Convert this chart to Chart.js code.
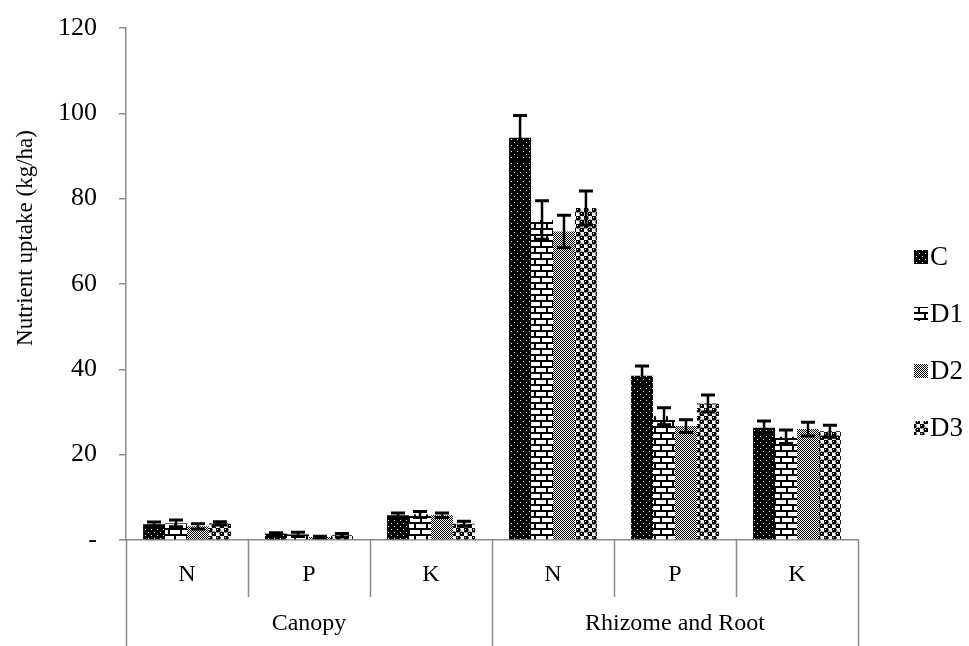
<!DOCTYPE html>
<html>
<head>
<meta charset="utf-8">
<script src="https://cdn.jsdelivr.net/npm/chart.js@4.4.1/dist/chart.umd.min.js"></script>
<style>
  html, body { margin: 0; padding: 0; background: #fff; }
  #wrap { width: 969px; height: 646px; }
</style>
</head>
<body>
<div id="wrap"><canvas id="c" width="969" height="646"></canvas></div>
<script>
// Nutrient categories along the x axis, grouped by plant part
const categories = ['N', 'P', 'K', 'N', 'P', 'K'];
const groups = ['Canopy', 'Rhizome and Root'];
const groupSize = 3;

// Treatments
const seriesNames = ['C', 'D1', 'D2', 'D3'];

// Nutrient uptake (kg/ha), one array per treatment
const valuesC  = [3.7, 1.5, 5.8, 94.3, 38.5, 26.3];
const valuesD1 = [3.9, 1.3, 6.0, 75.0, 29.0, 24.2];
const valuesD2 = [3.2, 0.7, 5.8, 72.3, 26.7, 26.0];
const valuesD3 = [3.9, 1.1, 3.8, 77.8, 32.0, 25.5];

// Standard errors
const errC  = [0.5, 0.2, 0.5, 5.2, 2.3, 1.6];
const errD1 = [0.8, 0.5, 0.7, 4.5, 2.0, 1.6];
const errD2 = [0.6, 0.2, 0.5, 3.8, 1.5, 1.6];
const errD3 = [0.4, 0.4, 0.6, 4.0, 2.0, 1.4];

// Y axis tick labels
const yTicks = [0, 20, 40, 60, 80, 100, 120];
const yTickLabels = ['-', '20', '40', '60', '80', '100', '120'];
const yTitle = 'Nutrient uptake (kg/ha)';

const FONT = "'Liberation Serif', 'Times New Roman', serif";
const AXIS_GREY = '#8a8a8a';

// ---- fill patterns for the bars ----
function makeTile(w, h, draw) {
  const t = document.createElement('canvas');
  t.width = w; t.height = h;
  const g = t.getContext('2d');
  draw(g, w, h);
  return t;
}
const ctxMain = document.getElementById('c').getContext('2d');

const patDots = ctxMain.createPattern(makeTile(6, 6, (g) => {
  g.fillStyle = '#000'; g.fillRect(0, 0, 6, 6);
  g.fillStyle = '#fff';
  g.fillRect(1, 1, 1, 1);
  g.fillRect(4, 4, 1, 1);
}), 'repeat');

const patBrick = ctxMain.createPattern(makeTile(12, 12, (g) => {
  g.fillStyle = '#fff'; g.fillRect(0, 0, 12, 12);
  g.fillStyle = '#000';
  g.fillRect(0, 0, 12, 2);
  g.fillRect(0, 6, 12, 2);
  g.fillRect(0, 0, 2, 6);
  g.fillRect(6, 6, 2, 6);
}), 'repeat');

const patChecker = ctxMain.createPattern(makeTile(2, 2, (g) => {
  g.fillStyle = '#fff'; g.fillRect(0, 0, 2, 2);
  g.fillStyle = '#000';
  g.fillRect(0, 0, 1, 1);
  g.fillRect(1, 1, 1, 1);
}), 'repeat');

const patBalls = ctxMain.createPattern(makeTile(8, 8, (g) => {
  g.fillStyle = '#fff'; g.fillRect(0, 0, 8, 8);
  g.fillStyle = '#000';
  [[2, 2], [6, 6]].forEach(([cx, cy]) => {
    g.beginPath(); g.arc(cx, cy, 2.6, 0, Math.PI * 2); g.fill();
  });
  g.fillStyle = '#fff';
  g.fillRect(1, 1, 1, 1);
  g.fillRect(5, 5, 1, 1);
}), 'repeat');

const seriesValues = [valuesC, valuesD1, valuesD2, valuesD3];
const seriesErrors = [errC, errD1, errD2, errD3];
const seriesFills = [patDots, patBrick, patChecker, patBalls];

// ---- error bars drawn from the y scale ----
const errorBars = {
  id: 'errorBars',
  afterDatasetsDraw(chart) {
    const { ctx, scales: { y } } = chart;
    ctx.save();
    ctx.strokeStyle = '#000';
    chart.data.datasets.forEach((ds, i) => {
      const meta = chart.getDatasetMeta(i);
      meta.data.forEach((bar, j) => {
        const v = ds.data[j], e = ds.errors[j];
        const yTop = y.getPixelForValue(v + e);
        const yBot = y.getPixelForValue(Math.max(0, v - e));
        const x = bar.x;
        ctx.lineWidth = 2.5;
        ctx.beginPath();
        ctx.moveTo(x, yTop); ctx.lineTo(x, yBot);
        ctx.stroke();
        ctx.lineWidth = 3;
        ctx.beginPath();
        ctx.moveTo(x - 7, yTop); ctx.lineTo(x + 7, yTop);
        ctx.moveTo(x - 7, yBot); ctx.lineTo(x + 7, yBot);
        ctx.stroke();
      });
    });
    ctx.restore();
  }
};

// ---- two-level category axis, y title and legend ----
const decorations = {
  id: 'decorations',
  afterDraw(chart) {
    const { ctx, chartArea, scales: { x } } = chart;
    const bottom = chartArea.bottom;
    const n = categories.length;
    const step = (x.getPixelForValue(1) - x.getPixelForValue(0));
    ctx.save();
    ctx.strokeStyle = AXIS_GREY;
    ctx.lineWidth = 1.5;
    for (let k = 0; k <= n; k++) {
      const px = Math.round(x.getPixelForValue(k) - step / 2) + 0.5;
      const isGroupEdge = k % groupSize === 0;
      ctx.beginPath();
      ctx.moveTo(px, bottom);
      ctx.lineTo(px, isGroupEdge ? chart.height : bottom + 57);
      ctx.stroke();
    }
    // group labels
    ctx.fillStyle = '#000';
    ctx.font = '24px ' + FONT;
    ctx.textAlign = 'center';
    ctx.textBaseline = 'middle';
    groups.forEach((g, gi) => {
      const a = x.getPixelForValue(gi * groupSize) - step / 2;
      const b = x.getPixelForValue(gi * groupSize + groupSize - 1) + step / 2;
      ctx.fillText(g, (a + b) / 2, bottom + 84);
    });
    // y axis title
    ctx.save();
    ctx.translate(26, 238);
    ctx.rotate(-Math.PI / 2);
    ctx.font = '23px ' + FONT;
    ctx.fillText(yTitle, 0, 0);
    ctx.restore();
    // legend
    ctx.font = '27px ' + FONT;
    ctx.textAlign = 'left';
    chart.data.datasets.forEach((ds, i) => {
      const cy = 257 + i * 57;
      ctx.fillStyle = ds.backgroundColor;
      ctx.fillRect(914, cy - 7, 14, 14);
      ctx.fillStyle = '#000';
      ctx.fillText(ds.label, 930, cy + 1);
    });
    ctx.restore();
  }
};

new Chart(ctxMain, {
  type: 'bar',
  data: {
    labels: categories,
    datasets: seriesNames.map((name, i) => ({
      label: name,
      data: seriesValues[i],
      errors: seriesErrors[i],
      backgroundColor: seriesFills[i],
      borderWidth: 0,
      categoryPercentage: 0.72,
      barPercentage: 1.0
    }))
  },
  options: {
    responsive: false,
    animation: false,
    devicePixelRatio: 1,
    layout: { padding: { top: 28, right: 111, left: 0, bottom: 0 } },
    plugins: {
      legend: { display: false },
      tooltip: { enabled: false }
    },
    scales: {
      x: {
        grid: { display: false },
        border: { display: true, color: AXIS_GREY, width: 1.5 },
        ticks: {
          color: '#000',
          font: { family: FONT, size: 24 },
          padding: 12,
          maxRotation: 0
        },
        afterFit(scale) {
          scale.height = 106;
          scale.paddingLeft = 0;
          scale.paddingRight = 0;
        }
      },
      y: {
        min: 0,
        max: 120,
        afterBuildTicks(scale) { scale.ticks = yTicks.map(v => ({ value: v })); },
        ticks: {
          color: '#000',
          font: { family: FONT, size: 26 },
          padding: 22,
          callback(v) { return yTickLabels[yTicks.indexOf(v)]; }
        },
        grid: {
          drawOnChartArea: false,
          drawTicks: true,
          tickLength: 7,
          color: AXIS_GREY,
          lineWidth: 1.5
        },
        border: { display: true, color: AXIS_GREY, width: 1.5 },
        afterFit(scale) {
          scale.width = 126;
          scale.paddingTop = 0;
          scale.paddingBottom = 0;
        }
      }
    }
  },
  plugins: [errorBars, decorations]
});
</script>
</body>
</html>
